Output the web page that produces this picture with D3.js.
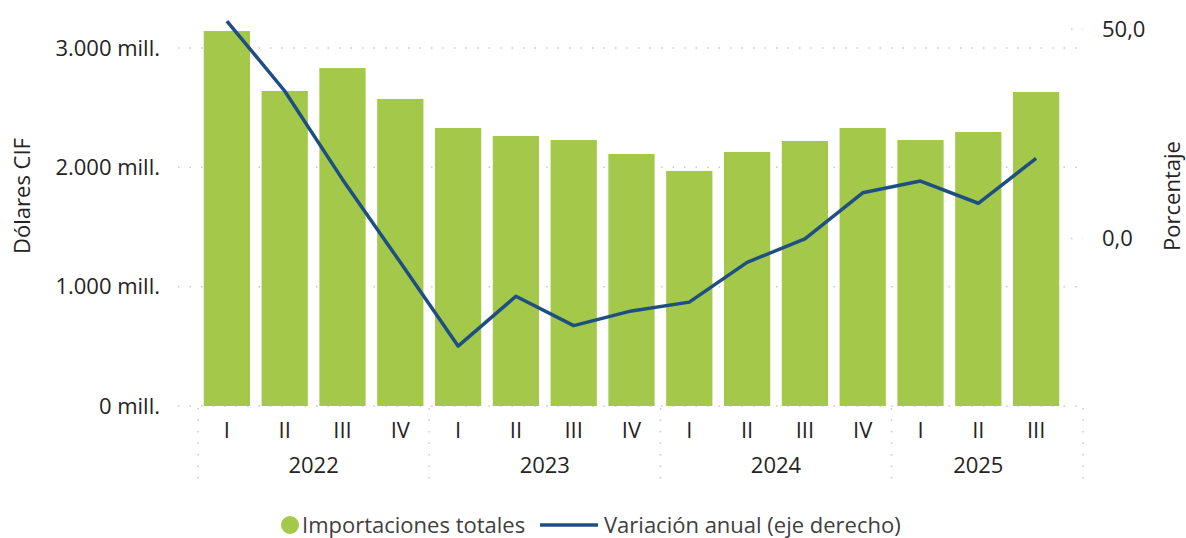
<!DOCTYPE html>
<html>
<head>
<meta charset="utf-8">
<script src="https://cdn.jsdelivr.net/npm/d3@7"></script>
<style>
  body { margin: 0; background: #fff; }
  text { font-family: "Open Sans", "Noto Sans", sans-serif; fill: #252423; }
</style>
</head>
<body>
<div id="chart"></div>
<script>
// data
var years = ["2022", "2023", "2024", "2025"];
var quarters = ["I", "II", "III", "IV", "I", "II", "III", "IV", "I", "II", "III", "IV", "I", "II", "III"];
var quarterYear = ["2022", "2022", "2022", "2022", "2023", "2023", "2023", "2023", "2024", "2024", "2024", "2024", "2025", "2025", "2025"];
var importaciones = [3142, 2640, 2832, 2573, 2330, 2263, 2229, 2112, 1970, 2129, 2221, 2330, 2229, 2296, 2631];
var variacion = [51.9, 35.2, 14.1, -5.7, -25.7, -13.8, -20.8, -17.3, -15.2, -5.7, -0.1, 10.9, 13.7, 8.4, 19.1];
var leftTicks = [0, 1000, 2000, 3000];
var rightTicks = [0, 50];

var width = 1186;
var height = 538;
var green = "#a3c84a";
var blue = "#1f4f82";

var svg = d3.select("#chart")
    .append("svg")
    .attr("width", width)
    .attr("height", height);

var keys = quarters.map(function(q, i) { return i; });

var x = d3.scaleBand()
    .domain(keys)
    .range([198, 1065])
    .paddingInner(0.2)
    .paddingOuter(0.1);

var yLeft = d3.scaleLinear().domain([0, 3000]).range([406, 48]);
var yRight = d3.scaleLinear().domain([-40, 50]).range([406, 29]);

var plotLeft = 178, plotRight = 1083;

// gridlines
svg.append("g")
  .selectAll("line")
  .data(leftTicks)
  .enter().append("line")
    .attr("x1", plotLeft)
    .attr("x2", plotRight)
    .attr("y1", function(d) { return yLeft(d); })
    .attr("y2", function(d) { return yLeft(d); })
    .attr("stroke", "#c8c8c8")
    .attr("stroke-width", 1.5)
    .attr("stroke-dasharray", "1.5,10");

// right axis stubs
svg.append("g")
  .selectAll("line")
  .data(rightTicks)
  .enter().append("line")
    .attr("x1", 1071)
    .attr("x2", plotRight)
    .attr("y1", function(d) { return yRight(d); })
    .attr("y2", function(d) { return yRight(d); })
    .attr("stroke", "#c8c8c8")
    .attr("stroke-width", 1.5)
    .attr("stroke-dasharray", "1.5,10");

// left tick labels
svg.append("g")
  .selectAll("text")
  .data(leftTicks)
  .enter().append("text")
    .attr("x", 160)
    .attr("y", function(d) { return yLeft(d); })
    .attr("dy", "0.35em")
    .attr("text-anchor", "end")
    .style("font-size", "22px")
    .text(function(d) { return d3.format(",")(d).replace(/,/g, ".") + " mill."; });

// right tick labels
svg.append("g")
  .selectAll("text")
  .data(rightTicks)
  .enter().append("text")
    .attr("x", 1102)
    .attr("y", function(d) { return yRight(d); })
    .attr("dy", "0.35em")
    .style("font-size", "22px")
    .text(function(d) { return d.toFixed(1).replace(".", ","); });

// axis titles
svg.append("text")
    .attr("transform", "translate(30,196) rotate(-90)")
    .attr("text-anchor", "middle")
    .style("font-size", "22px")
    .text("Dólares CIF");

svg.append("text")
    .attr("transform", "translate(1180,196) rotate(-90)")
    .attr("text-anchor", "middle")
    .style("font-size", "22px")
    .text("Porcentaje");

// bars
svg.append("g")
  .selectAll("rect")
  .data(importaciones)
  .enter().append("rect")
    .attr("x", function(d, i) { return x(i); })
    .attr("y", function(d) { return yLeft(d); })
    .attr("width", x.bandwidth())
    .attr("height", function(d) { return yLeft(0) - yLeft(d); })
    .attr("fill", green);

// line
var line = d3.line()
    .x(function(d, i) { return x(i) + x.bandwidth() / 2; })
    .y(function(d) { return yRight(d); });

svg.append("path")
    .datum(variacion)
    .attr("d", line)
    .attr("fill", "none")
    .attr("stroke", blue)
    .attr("stroke-width", 3.5)
    .attr("stroke-linejoin", "round");

// x axis: quarter labels
svg.append("g")
  .selectAll("text")
  .data(quarters)
  .enter().append("text")
    .attr("x", function(d, i) { return x(i) + x.bandwidth() / 2; })
    .attr("y", 430)
    .attr("dy", "0.35em")
    .attr("text-anchor", "middle")
    .style("font-size", "22px")
    .text(function(d) { return d; });

// year groups
var step = x.step();
var groupStart = function(yr) { return x(quarterYear.indexOf(yr)) - (step - x.bandwidth()) / 2; };
var groupEnd = function(yr) { return x(quarterYear.lastIndexOf(yr)) + x.bandwidth() + (step - x.bandwidth()) / 2; };

svg.append("g")
  .selectAll("text")
  .data(years)
  .enter().append("text")
    .attr("x", function(d) { return (groupStart(d) + groupEnd(d)) / 2; })
    .attr("y", 465)
    .attr("dy", "0.35em")
    .attr("text-anchor", "middle")
    .style("font-size", "22px")
    .text(function(d) { return d; });

var seps = years.map(groupStart).concat([plotRight]);

svg.append("g")
  .selectAll("line")
  .data(seps)
  .enter().append("line")
    .attr("x1", function(d) { return d; })
    .attr("x2", function(d) { return d; })
    .attr("y1", 408)
    .attr("y2", 484)
    .attr("stroke", "#c8c8c8")
    .attr("stroke-width", 1.5)
    .attr("stroke-dasharray", "1.5,10");

// legend
var legend = svg.append("g");
legend.append("circle")
    .attr("cx", 290)
    .attr("cy", 525)
    .attr("r", 9)
    .attr("fill", green);
legend.append("text")
    .attr("x", 302)
    .attr("y", 525)
    .attr("dy", "0.35em")
    .style("font-size", "22px")
    .style("fill", "#404040")
    .text("Importaciones totales");
legend.append("line")
    .attr("x1", 540)
    .attr("x2", 598)
    .attr("y1", 525)
    .attr("y2", 525)
    .attr("stroke", blue)
    .attr("stroke-width", 3.5);
legend.append("text")
    .attr("x", 604)
    .attr("y", 525)
    .attr("dy", "0.35em")
    .style("font-size", "22px")
    .style("fill", "#404040")
    .text("Variación anual (eje derecho)");
</script>
</body>
</html>
